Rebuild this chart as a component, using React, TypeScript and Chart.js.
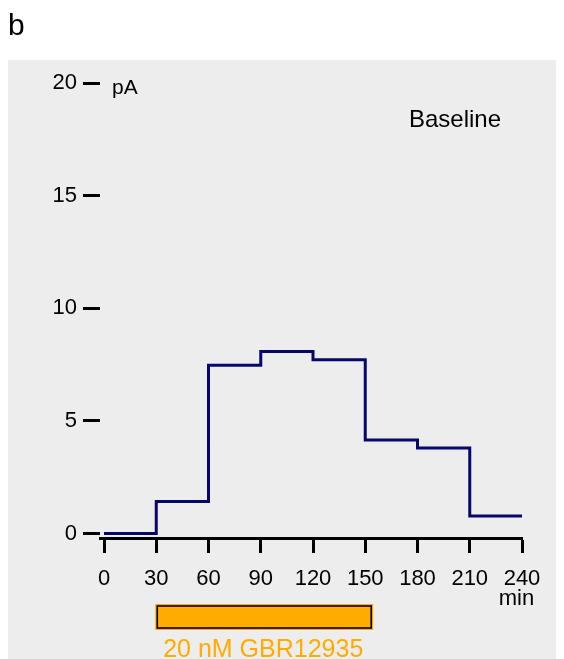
import React, { useEffect, useRef } from "react";
import { Chart, registerables } from "chart.js";

Chart.register(...registerables);

// Interval start times (min) and the mean current during each 30-min interval (pA)
const INTERVAL_STARTS = [0, 30, 60, 90, 120, 150, 180, 210];
const INTERVAL_END = 240;
const CURRENT_PA = [0, 1.42, 7.47, 8.08, 7.71, 4.15, 3.8, 0.78];

const X_TICKS = [0, 30, 60, 90, 120, 150, 180, 210, 240];
const Y_TICKS = [0, 5, 10, 15, 20];

// Drug application window (min)
const DRUG_START = 30;
const DRUG_END = 154;
const DRUG_LABEL = "20 nM GBR12935";

const PANEL_LABEL = "b";
const CONDITION_LABEL = "Baseline";
const Y_UNIT = "pA";
const X_UNIT = "min";

const FONT = "'Liberation Sans', Arial, Helvetica, sans-serif";
const LINE_COLOR = "#07076b";
const ORANGE = "#ffab00";
const PANEL_BG = "#ededed";

const decorPlugin = {
  id: "decor",
  beforeDraw(chart: any) {
    const { ctx, width, height } = chart;
    ctx.save();
    ctx.fillStyle = "#ffffff";
    ctx.fillRect(0, 0, width, height);
    ctx.fillStyle = PANEL_BG;
    ctx.fillRect(8, 60, 548, height - 60);
    ctx.fillStyle = "#000";
    ctx.font = `30px ${FONT}`;
    ctx.textAlign = "left";
    ctx.textBaseline = "alphabetic";
    ctx.fillText(PANEL_LABEL, 8, 35);
    ctx.restore();
  },
  afterDraw(chart: any) {
    const { ctx } = chart;
    const xs = chart.scales.x;
    ctx.save();
    ctx.fillStyle = "#000";
    ctx.textBaseline = "alphabetic";

    ctx.font = `21px ${FONT}`;
    ctx.textAlign = "left";
    ctx.fillText(Y_UNIT, 112, 94);

    ctx.font = `24px ${FONT}`;
    ctx.fillText(CONDITION_LABEL, 409, 127);

    ctx.font = `22px ${FONT}`;
    ctx.textAlign = "center";
    ctx.fillText(X_UNIT, 516.5, 605);

    // drug application bar
    const x0 = xs.getPixelForValue(DRUG_START) - 1;
    const x1 = xs.getPixelForValue(DRUG_END) + 1;
    ctx.fillStyle = ORANGE;
    ctx.fillRect(x0, 604, x1 - x0, 26);
    ctx.strokeStyle = "#000";
    ctx.lineWidth = 1.6;
    ctx.strokeRect(x0 + 2, 606, x1 - x0 - 4, 22);

    ctx.fillStyle = ORANGE;
    ctx.font = `25px ${FONT}`;
    ctx.textAlign = "center";
    ctx.fillText(DRUG_LABEL, (x0 + x1) / 2 - 1, 657);
    ctx.restore();
  },
};

export default function App() {
  const canvasRef = useRef<HTMLCanvasElement | null>(null);

  useEffect(() => {
    if (!canvasRef.current) return;
    const points = INTERVAL_STARTS.map((t, i) => ({ x: t, y: CURRENT_PA[i] }));
    points.push({ x: INTERVAL_END, y: CURRENT_PA[CURRENT_PA.length - 1] });

    const chart = new Chart(canvasRef.current, {
      type: "line",
      data: {
        datasets: [
          {
            data: points,
            stepped: "before",
            borderColor: LINE_COLOR,
            borderWidth: 3,
            borderJoinStyle: "miter",
            pointRadius: 0,
            fill: false,
          },
        ],
      },
      options: {
        responsive: false,
        animation: false,
        layout: { padding: { left: 0, right: 42, top: 83, bottom: 0 } },
        plugins: {
          legend: { display: false },
          tooltip: { enabled: false },
          title: { display: false },
        },
        scales: {
          x: {
            type: "linear",
            min: -2.3,
            max: 240,
            afterBuildTicks: (s: any) => {
              s.ticks = X_TICKS.map((v) => ({ value: v }));
            },
            afterFit: (s: any) => {
              s.height = 121;
            },
            border: { display: true, color: "#000", width: 3 },
            grid: {
              drawOnChartArea: false,
              drawTicks: true,
              tickLength: 15,
              tickWidth: 3,
              tickColor: "#000",
            },
            ticks: {
              autoSkip: false,
              maxRotation: 0,
              padding: 13,
              color: "#000",
              font: { family: FONT, size: 22 },
              callback: (v: any) => String(v),
            },
          },
          y: {
            type: "linear",
            min: -0.2,
            max: 20,
            afterBuildTicks: (s: any) => {
              s.ticks = Y_TICKS.map((v) => ({ value: v }));
            },
            afterFit: (s: any) => {
              s.width = 100;
            },
            border: { display: false },
            grid: {
              drawOnChartArea: false,
              drawTicks: true,
              tickLength: 17,
              tickWidth: 3,
              tickColor: "#000",
            },
            ticks: {
              padding: 6,
              color: "#000",
              font: { family: FONT, size: 22 },
              callback: (v: any) => String(v),
            },
          },
        },
      },
      plugins: [decorPlugin],
    } as any);

    return () => chart.destroy();
  }, []);

  return (
    <div style={{ position: "fixed", left: 0, top: 0, width: 564, height: 659 }}>
      <canvas ref={canvasRef} width={564} height={659} style={{ display: "block" }} />
    </div>
  );
}
